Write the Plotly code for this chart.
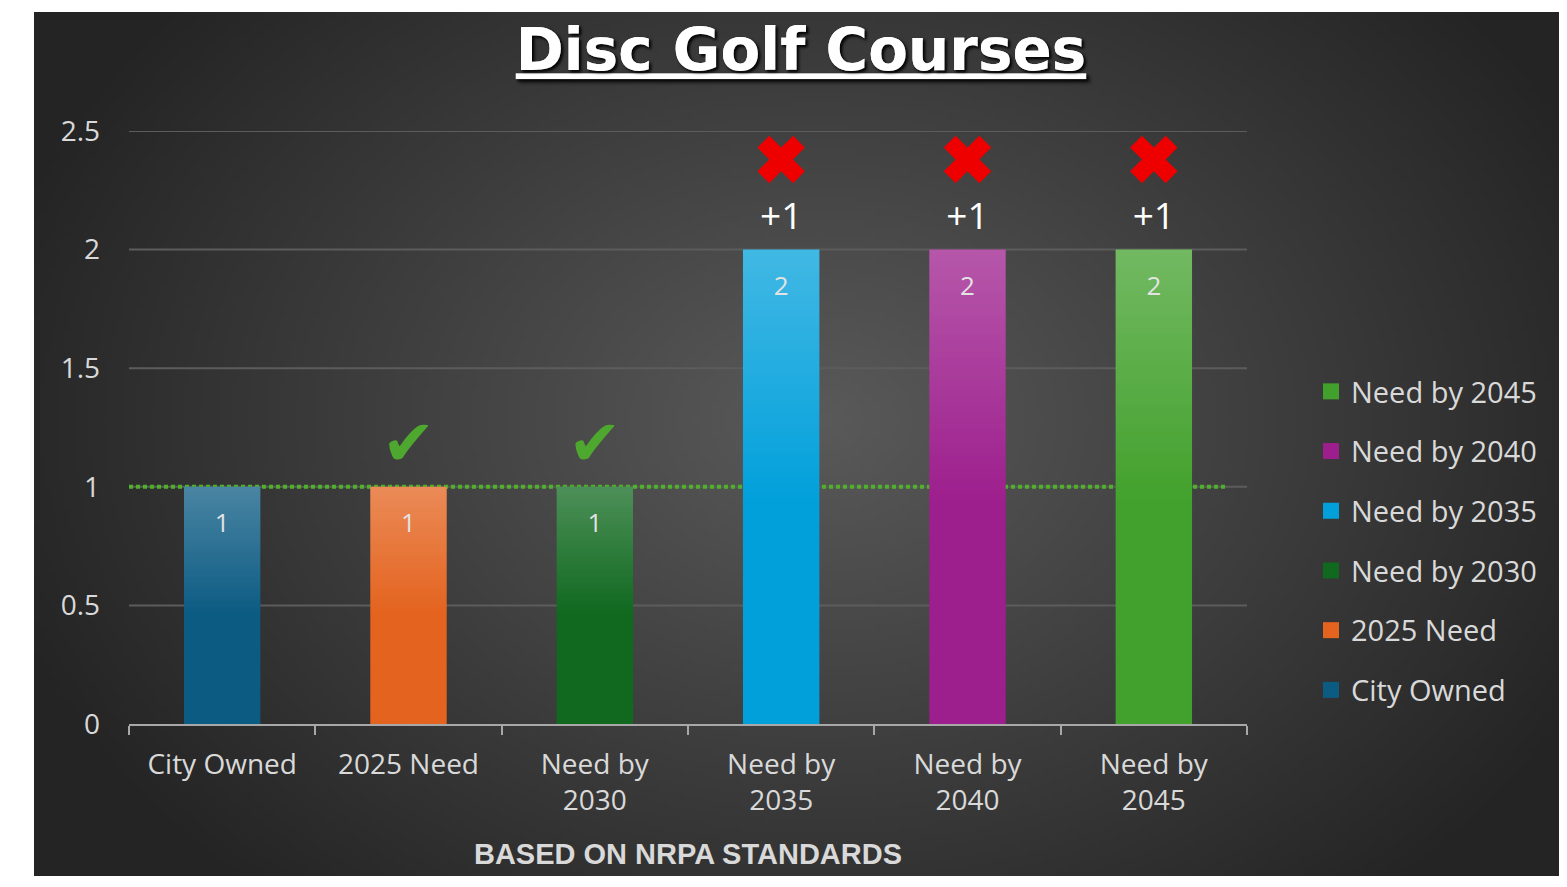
import base64
import struct
import zlib

import numpy as np
import plotly.graph_objects as go

# data
categories = ["City Owned", "2025 Need", "Need by 2030", "Need by 2035", "Need by 2040", "Need by 2045"]
tick_labels = ["City Owned", "2025 Need", "Need by<br>2030", "Need by<br>2035", "Need by<br>2040", "Need by<br>2045"]
courses = [1, 1, 1, 2, 2, 2]
y_ticks = [0, 0.5, 1, 1.5, 2, 2.5]

COLORS = ["#0c5b83", "#e4631e", "#10691f", "#01a0db", "#9d1e8d", "#42a12c"]
TEXT = "#d9d9d9"
GRID = "#5c5c5c"
CHECK = "#4ea72e"
CROSS = "#ee0000"
FONT = "Open Sans"
BAR_W = 0.41

# page body has an 8px margin, so the figure sits at (8, 8)
W, H = 1559, 871
ML, MR, MT, MB = 121, 320, 123, 155
PW, PH = W - ML - MR, H - MT - MB


def png_uri(img, color_type):
    h, w = img.shape[:2]
    raw = b"".join(b"\x00" + row.tobytes() for row in img)

    def chunk(tag, data):
        c = tag + data
        return struct.pack(">I", len(data)) + c + struct.pack(">I", zlib.crc32(c) & 0xFFFFFFFF)

    png = b"\x89PNG\r\n\x1a\n"
    png += chunk(b"IHDR", struct.pack(">IIBBBBB", w, h, 8, color_type, 0, 0, 0))
    png += chunk(b"IDAT", zlib.compress(raw, 9))
    png += chunk(b"IEND", b"")
    return "data:image/png;base64," + base64.b64encode(png).decode()


def background_png():
    # radial grey glow for the dark panel behind the chart
    w, h = 320, 180
    xs = (np.arange(w) + 0.5) / w * 1533 + 26
    ys = (np.arange(h) + 0.5) / h * 864 + 4
    X, Y = np.meshgrid(xs, ys)
    r = np.sqrt(((X - 812) / 860) ** 2 + ((Y - 412) / 640) ** 2)
    v = 36 + 54 * np.clip(1 - r, 0, 1)
    img = np.repeat(v[:, :, None], 3, axis=2).astype(np.uint8)
    return png_uri(img, 2)


def sheen_png():
    # white highlight fading down from the top of a bar
    h = 100
    t = (np.arange(h) + 0.5) / h
    a = 255 * 0.26 * np.clip(1 - t / 0.55, 0, 1)
    img = np.zeros((h, 2, 4), dtype=np.uint8)
    img[:, :, :3] = 255
    img[:, :, 3] = a[:, None].astype(np.uint8)
    return png_uri(img, 6)


fig = go.Figure()

for cat, val, col in zip(categories, courses, COLORS):
    fig.add_trace(
        go.Bar(
            x=[cat],
            y=[val],
            marker=dict(color=col, line=dict(width=0)),
            width=BAR_W,
            showlegend=False,
            hoverinfo="skip",
        )
    )

sheen = sheen_png()
for i, val in enumerate(courses):
    fig.add_layout_image(
        source=sheen,
        xref="x",
        yref="y",
        x=i - BAR_W / 2,
        y=val,
        sizex=BAR_W,
        sizey=val,
        sizing="stretch",
        xanchor="left",
        yanchor="top",
        layer="above",
    )

# legend entries with bigger square keys (listed newest first)
for cat, col in reversed(list(zip(categories, COLORS))):
    fig.add_trace(
        go.Scatter(
            x=[None],
            y=[None],
            mode="markers",
            name=cat,
            legendgroup=cat,
            marker=dict(symbol="square", size=19, color=col),
        )
    )

# value labels inside the bars
fig.add_trace(
    go.Scatter(
        x=categories,
        y=[v - 0.165 for v in courses],
        mode="text",
        text=[str(v) for v in courses],
        textfont=dict(family=FONT, size=26, color="#dcdcdc"),
        showlegend=False,
        hoverinfo="skip",
    )
)

city = courses[0]
ok_x, ok_y, short_x, short_y, gap_text = [], [], [], [], []
for cat, val in zip(categories[1:], courses[1:]):
    if val > city:
        short_x.append(cat)
        short_y.append(val)
        gap_text.append(f"+{val - city}")
    else:
        ok_x.append(cat)
        ok_y.append(val)

fig.add_trace(
    go.Scatter(
        x=ok_x,
        y=[v + 0.16 for v in ok_y],
        mode="text",
        text=["✔"] * len(ok_x),
        textfont=dict(family="DejaVu Sans", size=64, color=CHECK),
        showlegend=False,
        hoverinfo="skip",
    )
)
fig.add_trace(
    go.Scatter(
        x=short_x,
        y=[v + 0.125 for v in short_y],
        mode="text",
        text=gap_text,
        textfont=dict(family=FONT, size=37, color="white"),
        showlegend=False,
        hoverinfo="skip",
    )
)
fig.add_trace(
    go.Scatter(
        x=short_x,
        y=[v + 0.38 for v in short_y],
        mode="markers",
        marker=dict(symbol="x", size=42, color=CROSS, line=dict(width=0)),
        showlegend=False,
        hoverinfo="skip",
    )
)

# gridlines drawn as shapes so the dotted line can sit on top of them, under the bars
for yv in y_ticks[1:]:
    fig.add_shape(
        type="line", xref="paper", x0=0, x1=1, y0=yv, y1=yv,
        line=dict(color=GRID, width=2), layer="below",
    )

# city-owned reference line
fig.add_shape(
    type="line",
    xref="paper",
    x0=0,
    x1=0.983,
    y0=city,
    y1=city,
    line=dict(color="#4fb02a", width=4, dash="4px,3px"),
    layer="below",
)

fig.add_layout_image(
    source=background_png(),
    xref="paper",
    yref="paper",
    x=(26 - ML) / PW,
    y=(H - MB - 4) / PH,
    sizex=1533 / PW,
    sizey=864 / PH,
    sizing="stretch",
    xanchor="left",
    yanchor="top",
    layer="below",
)

fig.update_layout(
    width=W,
    height=H,
    margin=dict(l=ML, r=MR, t=MT, b=MB),
    paper_bgcolor="white",
    plot_bgcolor="rgba(0,0,0,0)",
    barmode="overlay",
    font=dict(family=FONT, color=TEXT, size=27),
    title=dict(
        text="Disc Golf Courses",
        x=793 / W,
        xanchor="center",
        y=1 - 42 / H,
        yanchor="middle",
        font=dict(
            family="DejaVu Sans",
            size=58,
            weight=700,
            color="white",
            lineposition="under",
            shadow="2px 2px 3px rgba(0,0,0,0.7)",
        ),
    ),
    legend=dict(
        x=(1303 - ML) / PW,
        xanchor="left",
        y=(H - MB - 533) / PH,
        yanchor="middle",
        traceorder="grouped",
        tracegroupgap=19,
        font=dict(family=FONT, size=29, color=TEXT),
        bgcolor="rgba(0,0,0,0)",
        itemwidth=30,
    ),
)

fig.update_xaxes(
    categoryorder="array",
    categoryarray=categories,
    tickvals=categories,
    ticktext=tick_labels,
    showline=True,
    linecolor="#a8a8a8",
    linewidth=2,
    ticks="outside",
    tickson="boundaries",
    ticklen=9,
    tickwidth=2,
    tickcolor="#a8a8a8",
    showgrid=False,
    ticklabelstandoff=14,
    tickfont=dict(family=FONT, size=28, color=TEXT),
    title=dict(
        text="BASED ON NRPA STANDARDS",
        font=dict(family="Liberation Sans", size=29, weight=700, color=TEXT),
        standoff=27,
    ),
)
fig.update_yaxes(
    range=[y_ticks[0], y_ticks[-1]],
    tickvals=y_ticks,
    showgrid=False,
    zeroline=False,
    showline=False,
    ticks="",
    ticklabelstandoff=28,
    tickfont=dict(family=FONT, size=28, color=TEXT),
)

fig.write_html("out.html")
